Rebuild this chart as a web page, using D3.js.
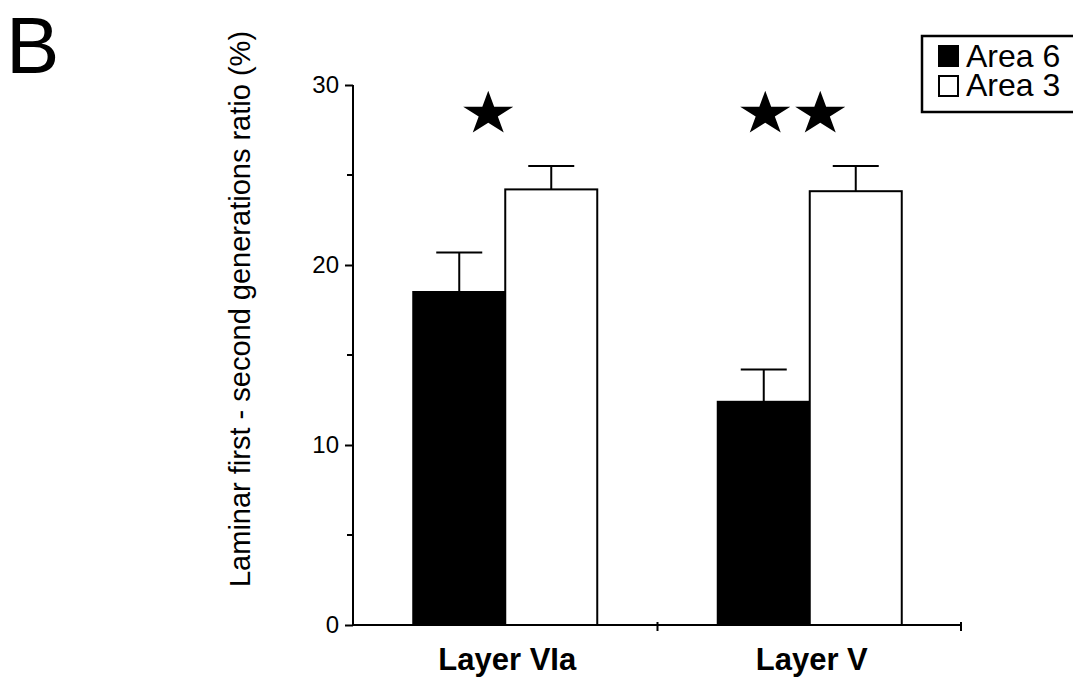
<!DOCTYPE html>
<html>
<head>
<meta charset="utf-8">
<script src="https://cdn.jsdelivr.net/npm/d3@7"></script>
<style>
  html, body { margin: 0; padding: 0; background: #fff; }
  svg { display: block; font-family: "Liberation Sans", Arial, Helvetica, sans-serif; }
</style>
</head>
<body>
<svg id="chart" width="1073" height="677"></svg>
<script>
// Laminar ratio by layer and cortical area (mean + SEM)
const layers = ["Layer VIa", "Layer V"];
const areas = ["Area 6", "Area 3"];
const area6Mean = [18.5, 12.4];
const area6Sem = [2.2, 1.8];
const area3Mean = [24.2, 24.1];
const area3Sem = [1.3, 1.4];
const starCount = [1, 2];
const yTicks = [0, 10, 20, 30];
const yMinorTicks = [5, 15, 25];
const yLabel = "Laminar first - second generations ratio (%)";
const panelLetter = "B";

const areaFill = { "Area 6": "#000", "Area 3": "#fff" };

const rows = layers.flatMap((layer, i) => [
  { layer, area: "Area 6", mean: area6Mean[i], sem: area6Sem[i] },
  { layer, area: "Area 3", mean: area3Mean[i], sem: area3Sem[i] }
]);

const svg = d3.select("#chart");
const plot = { left: 353, right: 962, top: 85, bottom: 625 };

const x = d3.scaleBand().domain(layers).range([plot.left, plot.right]).paddingInner(0).paddingOuter(0);
const groupWidth = 184;
const xBar = d3.scaleBand().domain(areas).range([0, groupWidth]).padding(0);
const groupStart = l => x(l) + x.bandwidth() / 2 - groupWidth / 2;

const y = d3.scaleLinear().domain([0, 30]).range([plot.bottom, plot.top]);

// bars
svg.append("g").selectAll("rect").data(rows).join("rect")
  .attr("x", d => groupStart(d.layer) + xBar(d.area))
  .attr("y", d => y(d.mean))
  .attr("width", xBar.bandwidth())
  .attr("height", d => y(0) - y(d.mean))
  .attr("fill", d => areaFill[d.area])
  .attr("stroke", "#000")
  .attr("stroke-width", 2);

// upward error bars
const capW = 46;
const err = svg.append("g").attr("stroke", "#000").attr("stroke-width", 2);
rows.forEach(d => {
  const cx = groupStart(d.layer) + xBar(d.area) + xBar.bandwidth() / 2;
  err.append("line").attr("x1", cx).attr("x2", cx).attr("y1", y(d.mean)).attr("y2", y(d.mean + d.sem));
  err.append("line").attr("x1", cx - capW / 2).attr("x2", cx + capW / 2)
    .attr("y1", y(d.mean + d.sem)).attr("y2", y(d.mean + d.sem));
});

// y axis with minor ticks
const yAxis = svg.append("g").attr("transform", `translate(${plot.left},0)`)
  .call(d3.axisLeft(y).tickValues(yTicks).tickSize(8).tickPadding(6).tickFormat(d3.format("d")));
yAxis.select(".domain").attr("d", `M0,${plot.bottom}V${plot.top}`).attr("stroke-width", 2);
yAxis.selectAll(".tick line").attr("stroke-width", 2);
yAxis.selectAll("text").attr("font-size", 24).attr("fill", "#000");
yAxis.selectAll(".minor").data(yMinorTicks).join("line").attr("class", "minor")
  .attr("x1", -6).attr("x2", 0).attr("y1", d => y(d)).attr("y2", d => y(d))
  .attr("stroke", "#000").attr("stroke-width", 2);

// x axis: baseline with ticks at group boundaries
const xAxisG = svg.append("g");
xAxisG.append("line").attr("x1", plot.left).attr("x2", plot.right)
  .attr("y1", plot.bottom).attr("y2", plot.bottom).attr("stroke", "#000").attr("stroke-width", 2);
const boundaries = layers.slice(1).map(l => x(l)).concat([plot.right - 1]);
xAxisG.selectAll(".bt").data(boundaries).join("line").attr("class", "bt")
  .attr("x1", d => d).attr("x2", d => d).attr("y1", plot.bottom - 3).attr("y2", plot.bottom + 6)
  .attr("stroke", "#000").attr("stroke-width", 2);
xAxisG.selectAll("text").data(layers).join("text")
  .attr("x", d => x(d) + x.bandwidth() / 2 + 2)
  .attr("y", 670)
  .attr("text-anchor", "middle")
  .attr("font-size", 31).attr("font-weight", "bold")
  .text(d => d);

// y axis title
svg.append("text")
  .attr("transform", "translate(250,309) rotate(-90)")
  .attr("text-anchor", "middle")
  .attr("font-size", 29)
  .text(yLabel);

// significance stars
const star = d3.symbol().type(d3.symbolStar).size(600);
const starGap = 55;
layers.forEach((l, i) => {
  const n = starCount[i];
  const cx = x(l) + x.bandwidth() / 2 - 17;
  for (let k = 0; k < n; k++) {
    const sx = cx + (k - (n - 1) / 2) * starGap;
    svg.append("path").attr("d", star())
      .attr("transform", `translate(${sx},${y(28.4)}) scale(1.14,1)`)
      .attr("fill", "#000");
  }
});

// legend
const legend = svg.append("g");
legend.append("rect").attr("x", 922).attr("y", 36).attr("width", 170).attr("height", 76)
  .attr("fill", "#fff").attr("stroke", "#000").attr("stroke-width", 2.5);
areas.forEach((a, i) => {
  const yy = 46 + i * 30;
  legend.append("rect").attr("x", 939).attr("y", yy).attr("width", 19).attr("height", 20)
    .attr("fill", areaFill[a]).attr("stroke", "#000").attr("stroke-width", 2);
  legend.append("text").attr("x", 966).attr("y", 67 + i * 28.5).attr("font-size", 32).text(a);
});

// panel letter
svg.append("text").attr("x", 6).attr("y", 72.5).attr("font-size", 80).text(panelLetter);
</script>
</body>
</html>
